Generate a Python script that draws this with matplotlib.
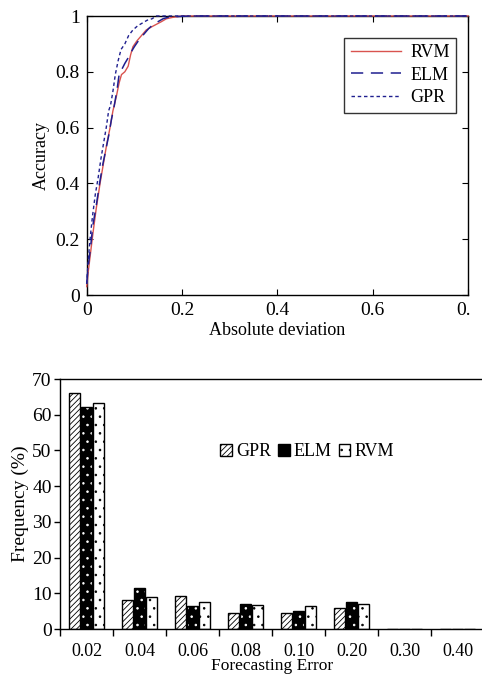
import matplotlib
matplotlib.use("Agg")
import matplotlib.pyplot as plt
import numpy as np
from matplotlib.transforms import Bbox
from matplotlib.patches import Patch

plt.rcParams['font.family'] = ['Liberation Serif', 'DejaVu Serif']
plt.rcParams['hatch.linewidth'] = 0.6

# ---- top chart data (empirical accuracy curves) ----
rvm_x = [0, 0.003, 0.008, 0.013, 0.02, 0.028, 0.035, 0.042, 0.049, 0.055, 0.062, 0.068,
         0.073, 0.08, 0.087, 0.092, 0.097, 0.105, 0.115, 0.125, 0.135, 0.146, 0.157,
         0.167, 0.18, 0.2, 0.25, 0.8]
rvm_y = [0.03, 0.08, 0.15, 0.22, 0.31, 0.40, 0.47, 0.54, 0.60, 0.66, 0.71, 0.76,
         0.79, 0.80, 0.82, 0.86, 0.89, 0.91, 0.93, 0.95, 0.96, 0.97, 0.98,
         0.99, 0.995, 1.0, 1.0, 1.0]
elm_x = [0, 0.003, 0.008, 0.013, 0.02, 0.027, 0.034, 0.04, 0.046, 0.052, 0.058, 0.064,
         0.068, 0.074, 0.08, 0.087, 0.093, 0.1, 0.11, 0.12, 0.13, 0.14, 0.15, 0.16,
         0.17, 0.19, 0.22, 0.8]
elm_y = [0.04, 0.10, 0.17, 0.25, 0.32, 0.40, 0.47, 0.52, 0.57, 0.63, 0.68, 0.74,
         0.79, 0.81, 0.83, 0.85, 0.87, 0.89, 0.915, 0.935, 0.955, 0.97, 0.98, 0.99,
         0.995, 0.998, 1.0, 1.0]
gpr_x = [0, 0.003, 0.007, 0.012, 0.018, 0.024, 0.03, 0.036, 0.041, 0.046, 0.05, 0.055,
         0.06, 0.066, 0.072, 0.08, 0.088, 0.097, 0.107, 0.117, 0.127, 0.137, 0.146,
         0.16, 0.8]
gpr_y = [0.04, 0.12, 0.20, 0.28, 0.36, 0.42, 0.49, 0.55, 0.60, 0.66, 0.68, 0.73,
         0.79, 0.84, 0.88, 0.90, 0.93, 0.95, 0.965, 0.975, 0.985, 0.99, 1.0,
         1.0, 1.0]
top_xticks = [0, 0.2, 0.4, 0.6, 0.8]
top_xticklabels = ["0", "0.2", "0.4", "0.6", "0.8"]
top_yticks = [0, 0.2, 0.4, 0.6, 0.8, 1.0]
top_yticklabels = ["0", "0.2", "0.4", "0.6", "0.8", "1"]

# ---- bottom chart data ----
categories = ["0.02", "0.04", "0.06", "0.08", "0.10", "0.20", "0.30", "0.40"]
gpr_freq = [66.0, 8.2, 9.3, 4.5, 4.5, 5.9, 0, 0]
elm_freq = [62.1, 11.4, 6.5, 7.1, 5.1, 7.5, 0, 0]
rvm_freq = [63.3, 8.9, 7.5, 6.8, 6.4, 6.9, 0, 0]

W, H = 482, 677
fig = plt.figure(figsize=(W / 100, H / 100), dpi=100)

# ================= TOP =================
ax1 = fig.add_axes([86.7 / W, 1 - 295 / H, (468 - 86.7) / W, (295 - 16) / H])
red = '#d9534f'
navy = '#1f1f8f'
ax1.plot(rvm_x, rvm_y, color=red, lw=1.0, label='RVM', clip_on=False, zorder=3)
ax1.plot(elm_x, elm_y, color=navy, lw=1.1, dashes=(8, 5), label='ELM', clip_on=False, zorder=3)
ax1.plot(gpr_x, gpr_y, color=navy, lw=1.0, dashes=(2.5, 2), label='GPR', clip_on=False, zorder=3)
ax1.set_xlim(0, 0.8)
ax1.set_ylim(0, 1)
ax1.set_xticks(top_xticks)
ax1.set_xticklabels(top_xticklabels)
ax1.set_yticks(top_yticks)
ax1.set_yticklabels(top_yticklabels)
ax1.tick_params(direction='in', top=True, right=True, labelsize=14, length=4, width=0.8, pad=5)
for s in ax1.spines.values():
    s.set_linewidth(1.0)
ax1.set_xlabel('Absolute deviation', fontsize=13, labelpad=2)
ax1.set_ylabel('Accuracy', fontsize=13, labelpad=4)
leg1 = ax1.legend(loc='upper right', bbox_to_anchor=(0.969, 0.921), fontsize=13,
                  frameon=True, fancybox=False, edgecolor='black', handlelength=2.8,
                  borderpad=0.35, labelspacing=0.3, handletextpad=0.5, borderaxespad=0)
leg1.get_frame().set_linewidth(1.0)
# clip last tick label at figure crop like the reference
clipbox = Bbox.from_extents(0, 0, 470, H)
for lbl in ax1.get_xticklabels():
    lbl.set_clip_box(clipbox)
    lbl.set_clip_on(True)

# ================= BOTTOM =================
ax2 = fig.add_axes([60 / W, 1 - 629 / H, (484 - 60) / W, (629 - 379) / H])
x = np.arange(len(categories))
bw = 0.19
step = 0.226
ax2.bar(x - step, gpr_freq, bw, facecolor='white', edgecolor='black', hatch='//////', lw=1.0)
ax2.bar(x, elm_freq, bw, facecolor='black', edgecolor='white', hatch='..', lw=0)
ax2.bar(x, elm_freq, bw, facecolor='none', edgecolor='black', lw=1.0)
ax2.bar(x + step, rvm_freq, bw, facecolor='white', edgecolor='black', hatch='..', lw=1.0)
ax2.set_xlim(-0.5, len(categories) - 0.5)
ax2.set_ylim(0, 70)
ax2.set_yticks(np.arange(0, 71, 10))
ax2.set_xticks(np.arange(-0.5, len(categories), 1.0))
ax2.set_xticklabels([])
ax2.set_xticks(x, minor=True)
ax2.set_xticklabels(categories, minor=True)
ax2.tick_params(axis='x', which='major', direction='out', length=5, width=1.0)
ax2.tick_params(axis='x', which='minor', length=0, labelsize=13, pad=10)
ax2.tick_params(axis='y', direction='out', length=4, width=1.0, labelsize=14, pad=2)
ax2.spines['right'].set_visible(False)
for s in ['top', 'left', 'bottom']:
    ax2.spines[s].set_linewidth(1.0)
ax2.set_xlabel('Forecasting Error', fontsize=12.5, labelpad=-1)
ax2.set_ylabel('Frequency (%)', fontsize=14, labelpad=2)
handles = [Patch(facecolor='white', edgecolor='black', hatch='//////', label='GPR'),
           Patch(facecolor='black', edgecolor='black', label='ELM'),
           Patch(facecolor='white', edgecolor='black', hatch='..', label='RVM')]
ax2.legend(handles=handles, loc='center', bbox_to_anchor=((307 - 60) / (424), (629 - 452) / 250),
           ncol=3, frameon=False, fontsize=13, handlelength=0.65, handleheight=0.65,
           handletextpad=0.2, columnspacing=0.4)

fig.savefig('out.png', dpi=100)
